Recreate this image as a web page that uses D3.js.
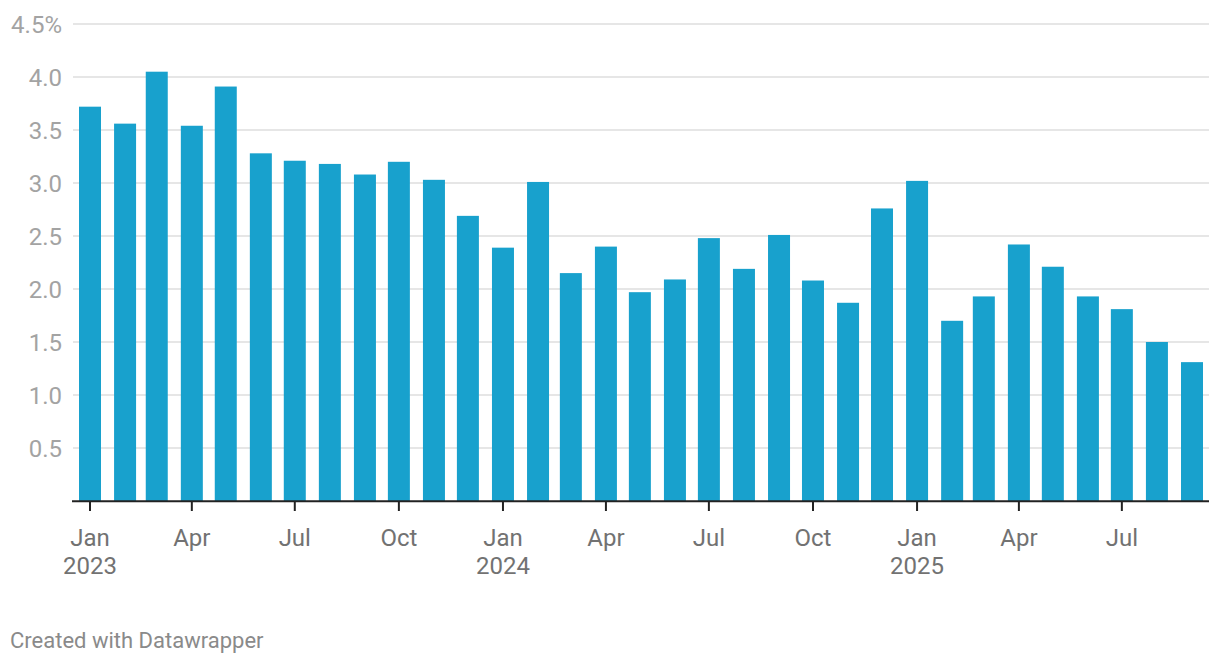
<!DOCTYPE html>
<html>
<head>
<meta charset="utf-8">
<script src="https://cdn.jsdelivr.net/npm/d3@7"></script>
<style>
  html, body { margin: 0; padding: 0; background: #fff; }
  svg { display: block; font-family: Roboto, "Noto Sans", sans-serif; }
</style>
</head>
<body>
<svg id="chart" width="1220" height="664"></svg>
<script>
// Monthly values, Jan 2023 – Sep 2025 (%)
const months = [
  "2023-01","2023-02","2023-03","2023-04","2023-05","2023-06","2023-07","2023-08","2023-09","2023-10","2023-11","2023-12",
  "2024-01","2024-02","2024-03","2024-04","2024-05","2024-06","2024-07","2024-08","2024-09","2024-10","2024-11","2024-12",
  "2025-01","2025-02","2025-03","2025-04","2025-05","2025-06","2025-07","2025-08","2025-09"
];
const values = [
  3.72, 3.56, 4.05, 3.54, 3.91, 3.28, 3.21, 3.18, 3.08, 3.20, 3.03, 2.69,
  2.39, 3.01, 2.15, 2.40, 1.97, 2.09, 2.48, 2.19, 2.51, 2.08, 1.87, 2.76,
  3.02, 1.70, 1.93, 2.42, 2.21, 1.93, 1.81, 1.50, 1.31
];
const yTicks = [0.5, 1.0, 1.5, 2.0, 2.5, 3.0, 3.5, 4.0, 4.5];
const xTickMonths = [
  "2023-01","2023-04","2023-07","2023-10",
  "2024-01","2024-04","2024-07","2024-10",
  "2025-01","2025-04","2025-07"
];
const monthNames = ["Jan","Feb","Mar","Apr","May","Jun","Jul","Aug","Sep","Oct","Nov","Dec"];
const footerText = "Created with Datawrapper";

const parse = s => { const [y, m] = s.split("-").map(Number); return new Date(Date.UTC(y, m - 1, 1)); };
const data = months.map((m, i) => ({ date: parse(m), value: values[i] }));

const svg = d3.select("#chart");

const x = d3.scaleUtc()
  .domain([parse("2023-01"), parse("2025-09")])
  .range([90, 1192]);
const y = d3.scaleLinear().domain([0, 4.5]).range([501, 24]);

const gridLeft = 73, gridRight = 1209;

// gridlines
svg.append("g").selectAll("line").data(yTicks).join("line")
  .attr("x1", gridLeft).attr("x2", gridRight)
  .attr("y1", d => y(d)).attr("y2", d => y(d))
  .attr("stroke", "#e6e6e6").attr("stroke-width", 2);

// y labels
svg.append("g").selectAll("text").data(yTicks).join("text")
  .attr("x", 62).attr("y", d => y(d) + 8.5)
  .attr("text-anchor", "end")
  .attr("fill", "#a3a3a3")
  .attr("font-size", 24)
  .text(d => d === 4.5 ? d3.format(".1f")(d) + "%" : d3.format(".1f")(d));

// bars
const barW = 22;
svg.append("g").selectAll("rect").data(data).join("rect")
  .attr("x", d => x(d.date) - barW / 2)
  .attr("width", barW)
  .attr("y", d => y(d.value))
  .attr("height", d => y(0) - y(d.value))
  .attr("fill", "#18a1cd");

// baseline axis
svg.append("line")
  .attr("x1", 72).attr("x2", gridRight)
  .attr("y1", y(0) + 0.3).attr("y2", y(0) + 0.3)
  .attr("stroke", "#222").attr("stroke-width", 2);

// x ticks & labels
const xt = svg.append("g").selectAll("g").data(xTickMonths.map(parse)).join("g")
  .attr("transform", d => `translate(${x(d)},0)`);
xt.append("line")
  .attr("y1", 502).attr("y2", 511)
  .attr("stroke", "#222").attr("stroke-width", 2);
xt.append("text")
  .attr("y", 546).attr("text-anchor", "middle")
  .attr("fill", "#727272").attr("font-size", 24)
  .text(d => monthNames[d.getUTCMonth()]);
xt.filter(d => d.getUTCMonth() === 0).append("text")
  .attr("y", 574).attr("text-anchor", "middle")
  .attr("fill", "#727272").attr("font-size", 24)
  .text(d => d.getUTCFullYear());

// footer
svg.append("text")
  .attr("x", 10).attr("y", 648)
  .attr("fill", "#8a8a8a").attr("font-size", 22)
  .text(footerText);
</script>
</body>
</html>
